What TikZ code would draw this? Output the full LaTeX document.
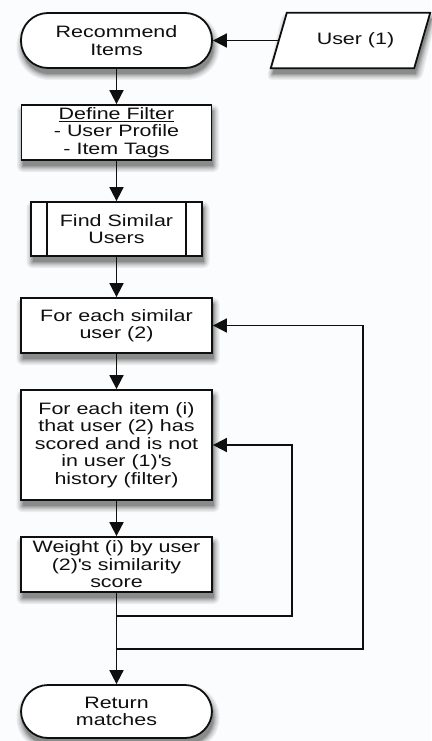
\documentclass[tikz,border=0pt]{standalone}
\usepackage{fontspec}
\setmainfont[FakeStretch=1.3]{Liberation Sans}
\usetikzlibrary{arrows.meta}
\definecolor{bg}{RGB}{251,252,253}
\definecolor{ink}{RGB}{15,15,15}
\tikzset{
  base/.style={draw=ink, line width=1.8pt, fill=white, text=ink, align=center,
    inner sep=0pt, font=\fontsize{16.5}{17.5}\selectfont},
  terminal/.style={base, rounded corners=27pt, minimum width=191pt, minimum height=55pt},
  procbox/.style={base, minimum width=191pt, minimum height=55pt},
  flow/.style={draw=ink, line width=1.8pt, -{Triangle[length=14pt,width=14pt]}},
  link/.style={draw=ink, line width=1.8pt}
}
% graded steps of a soft drop shadow, outermost (lightest) first
\newcommand\shadowsteps{6/6,5/10,4/15,3/21,2/28,1/36,0/45}
% soft drop shadow of a box: centre x, centre y, width, height, corner radius
\newcommand\dropshadow[5]{%
  \foreach \g/\c in \shadowsteps {%
    \fill[black!\c!bg, rounded corners=#5+\g*1pt]
      ({#1-#3/2+1.5-\g},{#2-#4/2+6-\g}) rectangle ({#1+#3/2+1.5+\g},{#2+#4/2+6+\g});}}
\begin{document}
\begin{tikzpicture}[x=1pt,y=-1pt]
  \fill[bg] (0,0) rectangle (431,741);
  \useasboundingbox (0,0) rectangle (431,741);

  % shadows, laid down before the boxes
  \dropshadow{116.5}{40.5}{191}{55}{27pt}
  \dropshadow{116.5}{132.5}{190}{55}{0pt}
  \dropshadow{116.5}{229}{171}{54}{0pt}
  \dropshadow{116.5}{325.5}{191}{55}{0pt}
  \dropshadow{116.5}{445}{191}{110}{0pt}
  \dropshadow{116.5}{564.5}{191}{55}{0pt}
  \dropshadow{116.5}{711.5}{191}{53}{26pt}
  \foreach \g/\c in \shadowsteps {%
    \fill[black!\c!bg, rounded corners=\g*1pt]
      ({271+1.5-\g},{68+6+\g}) -- ({287+1.5-\g},{13+6-\g})
      -- ({430+1.5+\g},{13+6-\g}) -- ({414+1.5+\g},{68+6+\g}) -- cycle;}

  % input parallelogram: outline drawn from the corners of a plain node
  \node[inner sep=0pt, minimum width=143pt, minimum height=55pt] (user) at (350.5,40.5) {};
  \draw[link, fill=white, line join=miter]
    ([xshift=-8pt]user.south west) -- ([xshift=8pt]user.north west)
    -- ([xshift=8pt]user.north east) -- ([xshift=-8pt]user.south east) -- cycle;
  \node[text=ink, font=\fontsize{16.5}{17.5}\selectfont] at ([xshift=5pt]user.center) {User (1)};

  % main column
  \node[terminal] (rec) at (116.5,40.5) {Recommend\\Items};
  \node[procbox, minimum width=190pt] (filter) at (116.5,132.5)
    {\underline{Define Filter}\\- User Profile\\- Item Tags};
  \node[procbox, minimum width=171pt, minimum height=54pt] (find) at (116.5,229)
    {Find Similar\\Users};
  \draw[link] ([xshift=17pt]find.north west) -- ([xshift=17pt]find.south west);
  \draw[link] ([xshift=-17pt]find.north east) -- ([xshift=-17pt]find.south east);
  \node[procbox] (each) at (116.5,325.5) {For each similar\\user (2)};
  \node[procbox, minimum height=110pt] (item) at (116.5,445)
    {For each item (i)\\that user (2) has\\scored and is not\\in user (1)\textquotesingle s\\history (filter)};
  \node[procbox] (weight) at (116.5,564.5)
    {Weight (i) by user\\(2)\textquotesingle s similarity\\score};
  \node[terminal, minimum height=53pt] (ret) at (116.5,711.5) {Return\\matches};

  % junctions for the two loops
  \coordinate (j1) at (116.5,616);
  \coordinate (r1) at (292,616);
  \coordinate (j2) at (116.5,649);
  \coordinate (r2) at (363,649);

  % connectors
  \draw[flow] (user.west) -- (rec.east);
  \draw[flow] (rec.south) -- (filter.north);
  \draw[flow] (filter.south) -- (find.north);
  \draw[flow] (find.south) -- (each.north);
  \draw[flow] (each.south) -- (item.north);
  \draw[flow] (item.south) -- (weight.north);
  \draw[flow] (weight.south) -- (ret.north);
  \draw[flow] (j1) -- (r1) |- (item.east);
  \draw[flow] (j2) -- (r2) |- (each.east);
\end{tikzpicture}
\end{document}
